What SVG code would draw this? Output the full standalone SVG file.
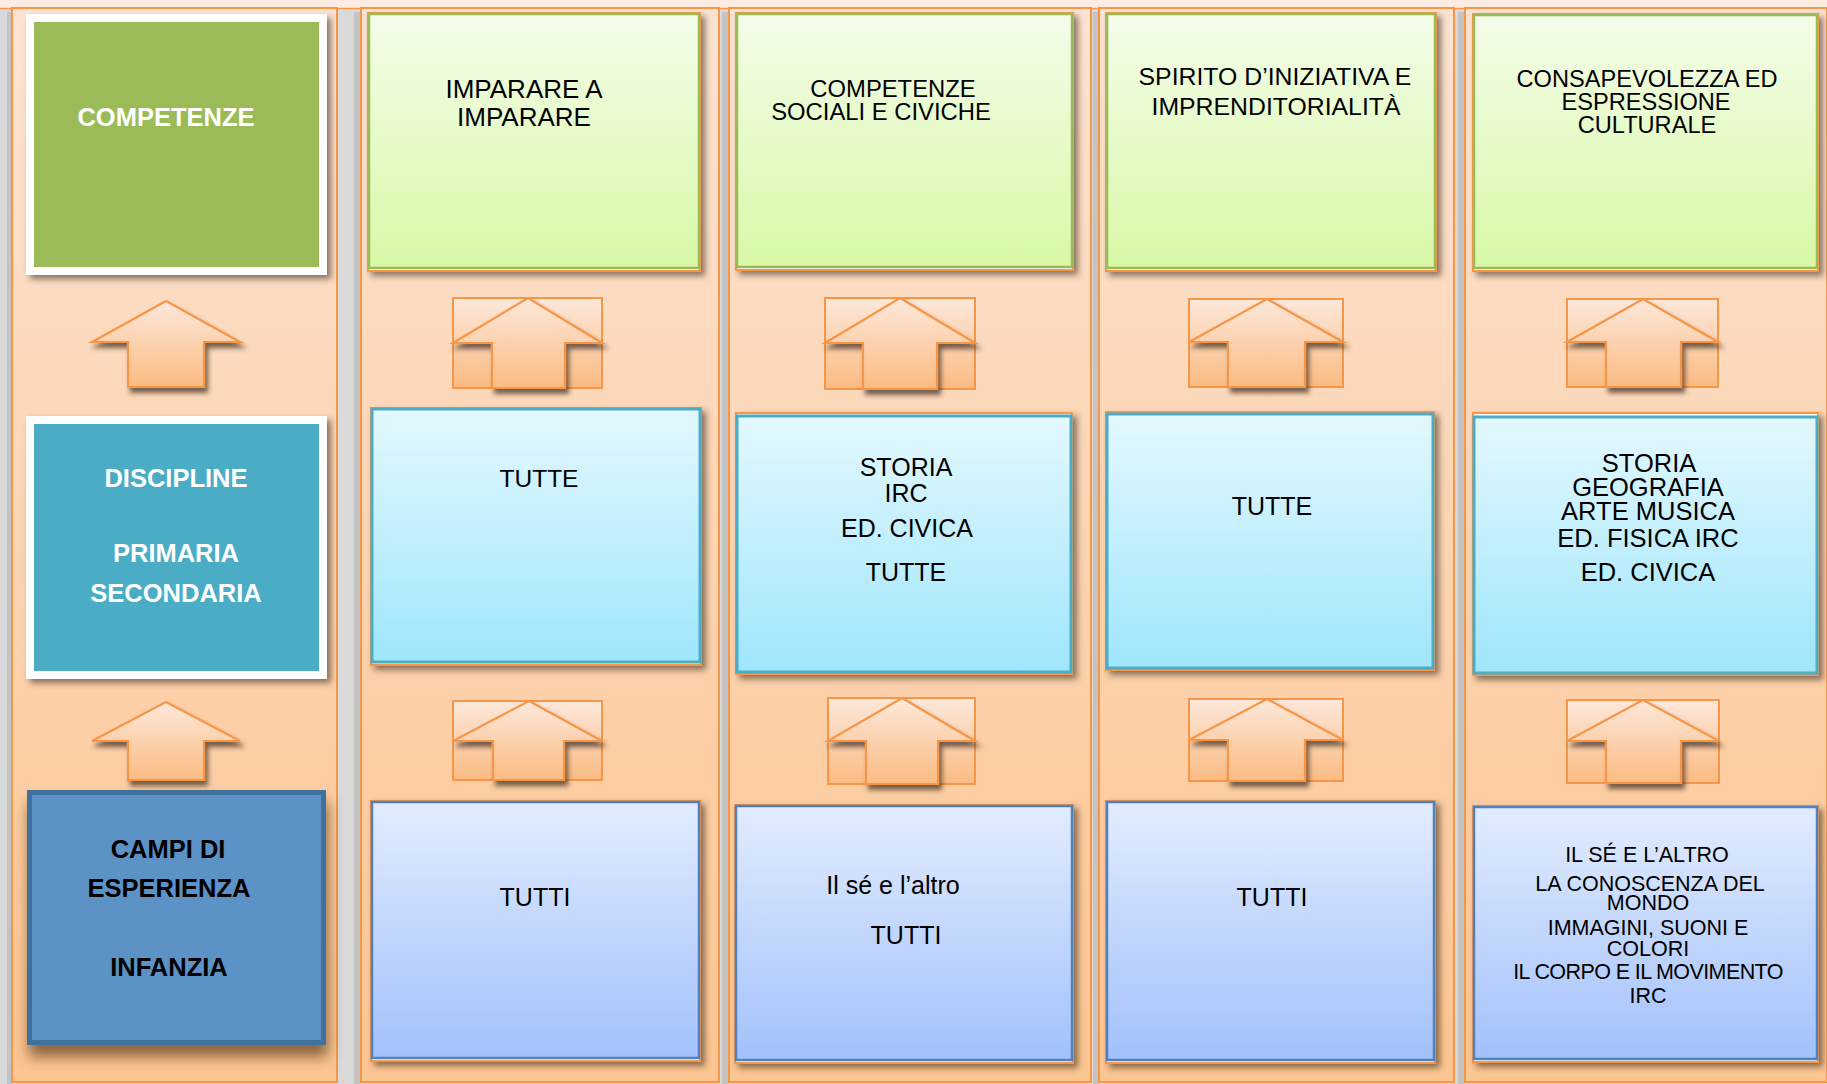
<svg xmlns="http://www.w3.org/2000/svg" width="1827" height="1084" viewBox="0 0 1827 1084">
<style>
.panel{fill:url(#gPanel);stroke:#f79646;stroke-width:2}
.sep{fill:#c4c4c4}
.green{fill:url(#gGreen);stroke:#9bbb59;stroke-width:2.5}
.cyan{fill:url(#gCyan);stroke:#4bacc6;stroke-width:3}
.lav{fill:url(#gLav);stroke:#4f81bd;stroke-width:2.5}
.back{fill:#ffffff;stroke:#f79646;stroke-width:2;filter:url(#sh)}
.abox{fill:url(#gArrow);stroke:#f79646;stroke-width:2}
.arrow{fill:url(#gArrow);stroke:#f79646;stroke-width:2.2;filter:url(#shA)}
.t{font-family:"Liberation Sans",Arial,sans-serif;fill:#000;text-anchor:middle}
.b{font-family:"Liberation Sans",Arial,sans-serif;font-weight:bold;text-anchor:middle;font-size:25.5px}
</style>
<defs>
<linearGradient id="gPanel" x1="0" y1="0" x2="0" y2="1"><stop offset="0" stop-color="#fde3d2"/><stop offset="1" stop-color="#fcc591"/></linearGradient>
<linearGradient id="gArrow" x1="0" y1="0" x2="0" y2="1"><stop offset="0" stop-color="#fde8db"/><stop offset="1" stop-color="#fbbb82"/></linearGradient>
<linearGradient id="gGreen" x1="0" y1="0" x2="0" y2="1"><stop offset="0" stop-color="#f4fdea"/><stop offset="1" stop-color="#d8f8a6"/></linearGradient>
<linearGradient id="gCyan" x1="0" y1="0" x2="0" y2="1"><stop offset="0" stop-color="#e4f8fe"/><stop offset="1" stop-color="#9fe6fc"/></linearGradient>
<linearGradient id="gLav" x1="0" y1="0" x2="0" y2="1"><stop offset="0" stop-color="#e2ecfe"/><stop offset="1" stop-color="#a2c1fb"/></linearGradient>
<filter id="sh" x="-10%" y="-10%" width="125%" height="125%"><feDropShadow dx="4" dy="4" stdDeviation="3" flood-color="#3b2a1c" flood-opacity="0.6"/></filter>
<filter id="shA" x="-15%" y="-15%" width="140%" height="140%"><feDropShadow dx="3" dy="5" stdDeviation="2.5" flood-color="#3b2a1c" flood-opacity="0.7"/></filter>
<filter id="shBig" x="-10%" y="-10%" width="125%" height="135%"><feDropShadow dx="2" dy="12" stdDeviation="7" flood-color="#5a3a1a" flood-opacity="0.7"/></filter>
</defs>

<rect x="0" y="0" width="1827" height="1084" fill="#d9d9d9"/>
<rect x="0" y="0" width="1827" height="9" fill="#fcece1"/>
<line x1="0" y1="8.5" x2="1827" y2="8.5" stroke="#f79646" stroke-width="1.5"/>

<g id="columns">
<rect class="sep" x="7" y="12" width="5" height="1072"/>
<rect class="sep" x="354" y="12" width="7" height="1072"/>
<rect class="sep" x="722" y="12" width="7" height="1072"/>
<rect class="sep" x="1093" y="12" width="6" height="1072"/>
<rect class="sep" x="1458" y="12" width="7" height="1072"/>
<rect class="panel" x="12" y="8" width="325" height="1074"/>
<rect class="panel" x="361" y="8" width="358" height="1074"/>
<rect class="panel" x="729" y="8" width="362" height="1074"/>
<rect class="panel" x="1099" y="8" width="355" height="1074"/>
<rect class="panel" x="1465" y="8" width="362" height="1074"/>
</g>

<g id="connectors">
<path class="arrow" d="M166,301 L240,342 L204,342 L204,387 L128,387 L128,342 L92,342 Z"/>
<path class="arrow" d="M166,702 L240,741 L204,741 L204,780 L128,780 L128,741 L92,741 Z"/>
<rect class="abox" x="453" y="298" width="149" height="90"/>
<path class="arrow" d="M528,298 L602,343 L565,343 L565,388 L492,388 L492,343 L453,343 Z"/>
<rect class="abox" x="825" y="298" width="150" height="91"/>
<path class="arrow" d="M900,298 L975,343 L937,343 L937,389 L863,389 L863,343 L825,343 Z"/>
<rect class="abox" x="1189" y="299" width="154" height="88"/>
<path class="arrow" d="M1267,299 L1343,342 L1305,342 L1305,387 L1228,387 L1228,342 L1189,342 Z"/>
<rect class="abox" x="1567" y="299" width="151" height="88"/>
<path class="arrow" d="M1643,299 L1718,342 L1681,342 L1681,387 L1606,387 L1606,342 L1567,342 Z"/>
<rect class="abox" x="453" y="701" width="149" height="79"/>
<path class="arrow" d="M529,701 L602,741 L564,741 L564,780 L493,780 L493,741 L453,741 Z"/>
<rect class="abox" x="828" y="698" width="147" height="86"/>
<path class="arrow" d="M902,698 L975,741 L938,741 L938,784 L866,784 L866,741 L828,741 Z"/>
<rect class="abox" x="1189" y="699" width="154" height="82"/>
<path class="arrow" d="M1267,699 L1343,740 L1305,740 L1305,781 L1228,781 L1228,740 L1189,740 Z"/>
<rect class="abox" x="1567" y="700" width="152" height="83"/>
<path class="arrow" d="M1643,700 L1719,741 L1681,741 L1681,783 L1606,783 L1606,741 L1567,741 Z"/>
</g>

<g id="competenze">
<rect x="26" y="14" width="301" height="261" fill="#ffffff" filter="url(#sh)"/>
<rect x="34" y="22" width="285" height="245" fill="#9bbb59"/>
<text class="b" x="166" y="126" fill="#ffffff">COMPETENZE</text>
</g>
<g id="discipline">
<rect x="26" y="416" width="301" height="263" fill="#ffffff" filter="url(#sh)"/>
<rect x="34" y="424" width="285" height="247" fill="#4bacc6"/>
<text class="b" x="176" y="487" fill="#ffffff">DISCIPLINE</text>
<text class="b" x="176" y="562" fill="#ffffff">PRIMARIA</text>
<text class="b" x="176" y="602" fill="#ffffff">SECONDARIA</text>
</g>
<g id="campi">
<rect x="29.5" y="792.5" width="294" height="250" fill="#5b92c6" stroke="#41719c" stroke-width="5" filter="url(#shBig)"/>
<text class="b" x="168" y="858" fill="#000000">CAMPI DI</text>
<text class="b" x="169" y="897" fill="#000000">ESPERIENZA</text>
<text class="b" x="169" y="976" fill="#000000">INFANZIA</text>
</g>

<g id="c1-competenza">
<rect class="back" x="368" y="13" width="332" height="258"/>
<rect class="green" x="369" y="14" width="330" height="254"/>
<text class="t" x="524" y="98" font-size="26">IMPARARE A</text>
<text class="t" x="524" y="126" font-size="26">IMPARARE</text>
</g>
<g id="c2-competenza">
<rect class="back" x="736" y="13" width="337" height="257"/>
<rect class="green" x="737" y="14" width="335" height="253"/>
<text class="t" x="893" y="97" font-size="23.8">COMPETENZE</text>
<text class="t" x="881" y="120" font-size="23.8">SOCIALI E CIVICHE</text>
</g>
<g id="c3-competenza">
<rect class="back" x="1106" y="13" width="330" height="258"/>
<rect class="green" x="1107" y="14" width="328" height="254"/>
<text class="t" x="1275" y="85" font-size="24.8">SPIRITO D’INIZIATIVA E</text>
<text class="t" x="1276" y="115" font-size="24.8">IMPRENDITORIALITÀ</text>
</g>
<g id="c4-competenza">
<rect class="back" x="1473" y="14" width="345" height="257"/>
<rect class="green" x="1474" y="15" width="343" height="253"/>
<text class="t" x="1647" y="87" font-size="23.6">CONSAPEVOLEZZA ED</text>
<text class="t" x="1646" y="110" font-size="23.6">ESPRESSIONE</text>
<text class="t" x="1647" y="133" font-size="23.6">CULTURALE</text>
</g>

<g id="c1-discipline">
<rect class="back" x="371" y="408" width="330" height="257"/>
<rect class="cyan" x="372" y="409" width="328" height="253"/>
<text class="t" x="539" y="487" font-size="24.5">TUTTE</text>
</g>
<g id="c2-discipline">
<rect class="back" x="736" y="413" width="336" height="261"/>
<rect class="cyan" x="737" y="416" width="334" height="256"/>
<text class="t" x="906" y="476" font-size="25">STORIA</text>
<text class="t" x="906" y="502" font-size="25">IRC</text>
<text class="t" x="907" y="537" font-size="25">ED. CIVICA</text>
<text class="t" x="906" y="581" font-size="25">TUTTE</text>
</g>
<g id="c3-discipline">
<rect class="back" x="1106" y="412" width="328" height="258"/>
<rect class="cyan" x="1107" y="414" width="326" height="254"/>
<text class="t" x="1272" y="515" font-size="25">TUTTE</text>
</g>
<g id="c4-discipline">
<rect class="back" x="1473" y="413" width="345" height="262"/>
<rect class="cyan" x="1474" y="417" width="343" height="256"/>
<text class="t" x="1649" y="472" font-size="25.5">STORIA</text>
<text class="t" x="1648" y="496" font-size="25.5">GEOGRAFIA</text>
<text class="t" x="1648" y="520" font-size="25.5">ARTE MUSICA</text>
<text class="t" x="1648" y="547" font-size="25.5">ED. FISICA IRC</text>
<text class="t" x="1648" y="581" font-size="25.5">ED. CIVICA</text>
</g>

<g id="c1-campi">
<rect class="back" x="371" y="801" width="329" height="260"/>
<rect class="lav" x="372" y="802" width="327" height="256"/>
<text class="t" x="535" y="906" font-size="25">TUTTI</text>
</g>
<g id="c2-campi">
<rect class="back" x="735" y="805" width="338" height="258"/>
<rect class="lav" x="736" y="806" width="336" height="254"/>
<text class="t" x="893" y="894" font-size="25">Il sé e l’altro</text>
<text class="t" x="906" y="944" font-size="25">TUTTI</text>
</g>
<g id="c3-campi">
<rect class="back" x="1106" y="801" width="329" height="262"/>
<rect class="lav" x="1107" y="802" width="327" height="258"/>
<text class="t" x="1272" y="906" font-size="25">TUTTI</text>
</g>
<g id="c4-campi">
<rect class="back" x="1473" y="806" width="345" height="256"/>
<rect class="lav" x="1474" y="807" width="343" height="252"/>
<text class="t" x="1647" y="862" font-size="21.5">IL SÉ E L’ALTRO</text>
<text class="t" x="1650" y="891" font-size="21.5">LA CONOSCENZA DEL</text>
<text class="t" x="1648" y="910" font-size="21.5">MONDO</text>
<text class="t" x="1648" y="935" font-size="21.5">IMMAGINI, SUONI E</text>
<text class="t" x="1648" y="956" font-size="21.5">COLORI</text>
<text class="t" x="1648" y="979" font-size="21.5" letter-spacing="-0.6">IL CORPO E IL MOVIMENTO</text>
<text class="t" x="1648" y="1003" font-size="21.5">IRC</text>
</g>
</svg>
